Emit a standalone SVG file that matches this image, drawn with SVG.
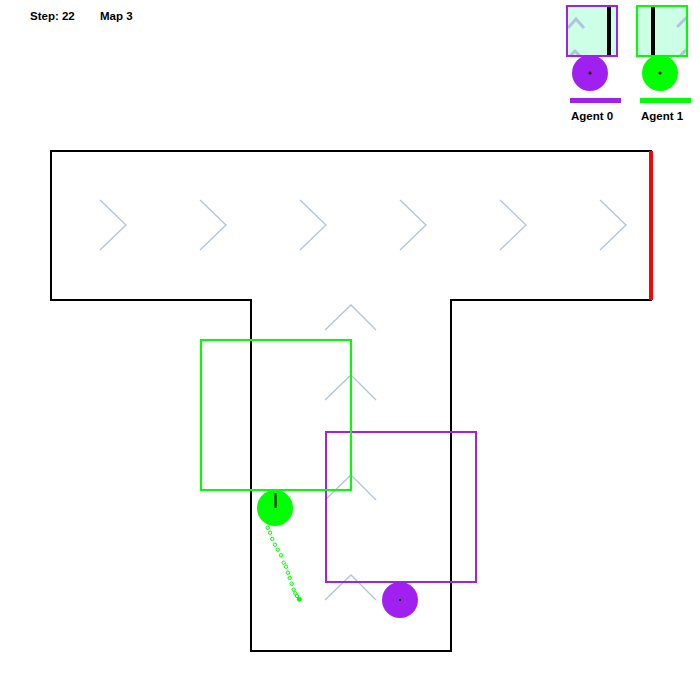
<svg xmlns="http://www.w3.org/2000/svg" width="700" height="700" viewBox="0 0 700 700">
<style>
text{font-family:"Liberation Sans",Arial,sans-serif;font-weight:bold;font-size:11.5px;fill:#000}
.chev{fill:none;stroke:#b0c4de;stroke-width:1.3}
.pchev{fill:none;stroke:#b0c4de;stroke-width:3}
.wall{fill:none;stroke:#000;stroke-width:2}
</style>
<defs>
<clipPath id="c0"><rect x="567" y="6" width="50" height="50"/></clipPath>
<clipPath id="c1"><rect x="637" y="6" width="50" height="50"/></clipPath>
</defs>
<rect width="700" height="700" fill="#fff"/>
<text x="30" y="20">Step: 22</text>
<text x="100" y="20">Map 3</text>

<g id="map">
<polygon class="wall" points="51,151 651,151 651,300 451,300 451,651 251,651 251,300 51,300"/>
<line x1="651" y1="151" x2="651" y2="300" stroke="#ff0000" stroke-width="4"/>
<g class="chev">
<polyline points="100,200 126,225 100,250"/>
<polyline points="200,200 226,225 200,250"/>
<polyline points="300,200 326,225 300,250"/>
<polyline points="400,200 426,225 400,250"/>
<polyline points="500,200 526,225 500,250"/>
<polyline points="600,200 626,225 600,250"/>
<polyline points="325,330 351,305 376,330"/>
<polyline points="325,400 351,375 376,400"/>
<polyline points="325,500 351,475 376,500"/>
<polyline points="325,600 351,575 376,600"/>
</g>
</g>

<g id="trail1" fill="none" stroke="#00ff00" stroke-width="1">
<circle cx="267.7" cy="527.7" r="1.7"/>
<circle cx="270" cy="532.7" r="1.7"/>
<circle cx="272.3" cy="539" r="1.7"/>
<circle cx="275" cy="544.7" r="1.7"/>
<circle cx="277.7" cy="549.7" r="1.7"/>
<circle cx="281" cy="555.3" r="1.7"/>
<circle cx="283.7" cy="562.7" r="1.7"/>
<circle cx="286" cy="566.7" r="1.7"/>
<circle cx="288" cy="572.7" r="1.7"/>
<circle cx="289.7" cy="578" r="1.7"/>
<circle cx="291.7" cy="583.7" r="1.7"/>
<circle cx="293.7" cy="589.7" r="1.7"/>
<circle cx="295.3" cy="593.3" r="1.7"/>
<circle cx="297" cy="596" r="1.7"/>
<circle cx="299.3" cy="599.3" r="2" fill="#00ff00"/>
</g>

<g id="agent0">
<rect x="326" y="432" width="150" height="150" fill="none" stroke="#a020f0" stroke-width="2"/>
<circle cx="400" cy="600" r="18" fill="#a020f0"/>
<circle cx="400" cy="600" r="1.3" fill="#000"/>
</g>

<g id="agent1">
<rect x="201" y="340" width="150" height="150" fill="none" stroke="#00ff00" stroke-width="2"/>
<circle cx="275" cy="508" r="18" fill="#00ff00"/>
<line x1="275.5" y1="493" x2="275.5" y2="508" stroke="#000" stroke-width="2"/>
</g>

<g id="panel0">
<circle cx="590" cy="73" r="18" fill="#a020f0"/>
<circle cx="590" cy="73" r="1.5" fill="#000"/>
<rect x="567" y="6" width="50" height="50" fill="#ccffe5"/>
<g clip-path="url(#c0)">
<polyline class="pchev" points="568,28 576,19 584,28"/>
<polyline class="pchev" points="569,57 575,51 581,57"/>
</g>
<line x1="609" y1="7" x2="609" y2="55" stroke="#000" stroke-width="4"/>
<rect x="567" y="6" width="50" height="50" fill="none" stroke="#a020f0" stroke-width="2"/>
<rect x="570" y="98" width="51" height="5" fill="#a020f0"/>
<text x="592" y="120" text-anchor="middle">Agent 0</text>
</g>

<g id="panel1">
<circle cx="660" cy="73" r="18" fill="#00ff00"/>
<circle cx="660" cy="73" r="1.5" fill="#000"/>
<rect x="637" y="6" width="50" height="50" fill="#ccffe5"/>
<g clip-path="url(#c1)">
<line class="pchev" x1="677" y1="27" x2="687" y2="17"/>
<line class="pchev" x1="679" y1="57" x2="687" y2="49"/>
</g>
<line x1="653" y1="7" x2="653" y2="55" stroke="#000" stroke-width="4"/>
<rect x="637" y="6" width="50" height="50" fill="none" stroke="#00ff00" stroke-width="2"/>
<rect x="640" y="98" width="51" height="5" fill="#00ff00"/>
<text x="662" y="120" text-anchor="middle">Agent 1</text>
</g>
</svg>
